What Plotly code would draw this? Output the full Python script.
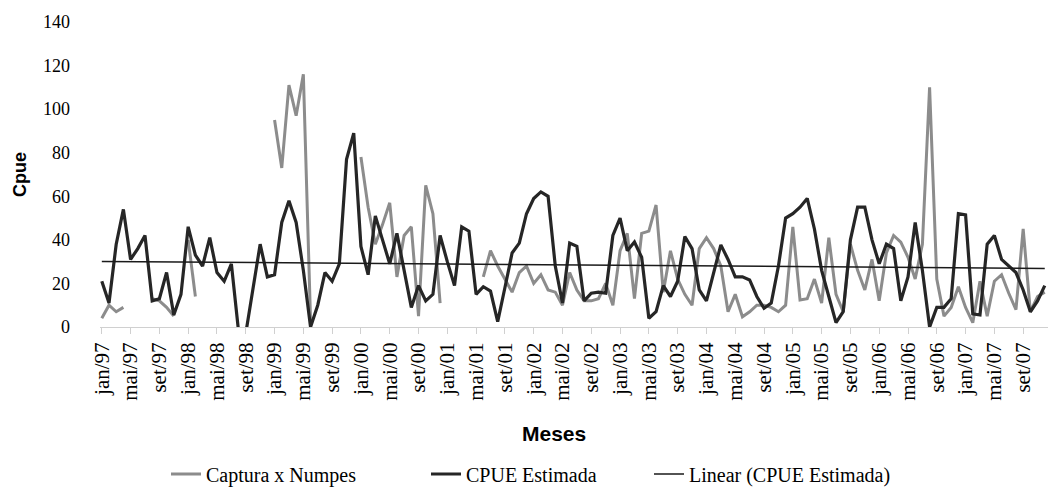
import numpy as np
import plotly.graph_objects as go

# month index 0 = jan/97 ... 131 = dez/07
months_pt = ["jan", "fev", "mar", "abr", "mai", "jun", "jul", "ago", "set", "out", "nov", "dez"]
years = ["97", "98", "99", "00", "01", "02", "03", "04", "05", "06", "07"]
month_labels = [f"{m}/{y}" for y in years for m in months_pt]

cpue_estimada = [
    21, 11, 38, 54, 31, 36, 42, 12, 13, 25, 5.5, 15,
    46, 33, 28, 41, 25, 21, 29, -2, -3, 17, 38, 23,
    24, 48, 58, 48, 26, 0, 10, 25, 21, 29, 77, 89,
    37, 24, 51, 40, 29, 43, 26, 9, 19, 12, 15, 42,
    30, 19, 46, 44, 15, 18.5, 16.5, 2.5, 18, 34, 38.5, 52,
    59, 62, 60, 28, 11, 38.5, 37, 12, 15.5, 16, 15.5, 42,
    50, 35, 39, 32, 4, 7, 19, 14, 21, 41.5, 36, 17,
    12, 25, 37.7, 31, 23, 23, 21.6, 14, 8.6, 11, 28, 50,
    52, 55, 59, 45, 26, 14, 2, 7, 40, 55, 55, 40,
    29, 38, 36, 12, 23, 48, 26, 0, 9, 9, 13, 52,
    51.5, 6, 5.5, 38, 42, 31, 28, 25, 17, 7, 12, 19,
]

N = None
captura_numpes = [
    4, 10, 7, 9, N, N, N, 13, 12, 9, 5, N,
    40, 14, N, N, N, N, N, N, N, N, N, N,
    95, 73, 111, 97, 116, 3, N, N, N, N, N, N,
    78, 55, 38, 47, 57, 23, 42, 46, 5, 65, 52, 11,
    N, N, N, N, N, 23, 35, 28, 22, 16, 25, 28,
    20, 24, 17, 16, 10, 25, 17, 12, 12, 13, 20, 10,
    35, 43, 13, 43, 44, 56, 16, 35, 22, 15, 10, 36,
    41, 36, 28, 7, 15, 4.7, 7, 10, 10, 9, 7, 10,
    46, 12.4, 13, 22, 11, 41, 15, 7, 38, 26, 17, 31,
    12, 34, 42, 39, 32, 22, 38, 110, 22, 5, 9, 18.5,
    9, 2, 21, 5, 21, 24, 15.5, 8, 45, 7, 14, 16,
]

tick_step = 4
x_idx = list(range(len(month_labels)))
tick_vals = x_idx[::tick_step]
tick_text = month_labels[::tick_step]

# linear trend of CPUE Estimada (least squares)
slope, intercept = np.polyfit(np.array(x_idx, float), np.array(cpue_estimada, float), 1)
trend_x = [x_idx[0], x_idx[-1]]
trend_y = [intercept + slope * x for x in trend_x]

W, H = 1048, 492
L, R, T, B = 100, 0, 22, 165
pw, ph = W - L - R, H - T - B

def px_x(px):
    return (px - L) / pw

def px_y(py):
    return (H - B - py) / ph

fig = go.Figure()
fig.add_trace(go.Scatter(
    x=x_idx, y=captura_numpes, mode="lines", name="Captura x Numpes",
    line=dict(color="#8c8c8c", width=3), connectgaps=False, legend="legend",
    showlegend=True,
))
fig.add_trace(go.Scatter(
    x=x_idx, y=cpue_estimada, mode="lines", name="CPUE Estimada",
    line=dict(color="#262626", width=3.2), legend="legend2", showlegend=True,
))
fig.add_trace(go.Scatter(
    x=trend_x, y=trend_y, mode="lines", name="Linear (CPUE Estimada)",
    line=dict(color="#1a1a1a", width=1.5), legend="legend3", showlegend=True,
))

serif = "Liberation Serif"
sans = "Liberation Sans"
leg_common = dict(orientation="h", yanchor="middle", xanchor="left",
                  xref="container", yref="container",
                  font=dict(family=serif, size=20, color="#000"),
                  bgcolor="rgba(0,0,0,0)", borderwidth=0)
leg_y = (H - 474) / H

fig.update_layout(
    width=W, height=H,
    margin=dict(l=L, r=R, t=T, b=B, pad=0, autoexpand=False),
    paper_bgcolor="white", plot_bgcolor="white",
    hovermode=False, showlegend=True,
    font=dict(family=serif, color="#000"),
    legend=dict(x=166 / W, y=leg_y, **leg_common),
    legend2=dict(x=426 / W, y=leg_y, **leg_common),
    legend3=dict(x=649 / W, y=leg_y, **leg_common),
    xaxis=dict(
        range=[-0.25, 131.45], tickmode="array", tickvals=tick_vals, ticktext=tick_text,
        tickangle=-90, ticks="outside", ticklen=6, tickcolor="#d0d0d0", tickwidth=1,
        showline=True, linecolor="#d0d0d0", linewidth=1, showgrid=False, zeroline=False,
        tickfont=dict(family=serif, size=21, color="#000"), automargin=False,
    ),
    yaxis=dict(
        range=[0, 140], tickmode="array", tickvals=list(range(0, 141, 20)),
        showline=False, showgrid=False, zeroline=False, ticks="",
        tickfont=dict(family=serif, size=18, color="#000"), ticklabelstandoff=29,
        automargin=False,
    ),
    annotations=[
        dict(text="<b>Cpue</b>", x=px_x(20), y=px_y(175), xref="paper", yref="paper",
             xanchor="center", yanchor="middle",
             showarrow=False, textangle=-90, font=dict(family=sans, size=18, color="#000")),
        dict(text="<b>Meses</b>", x=px_x(554), y=px_y(433), xref="paper", yref="paper",
             xanchor="center", yanchor="middle",
             showarrow=False, font=dict(family=sans, size=21, color="#000")),
    ],
)

fig.write_html("out.html")
